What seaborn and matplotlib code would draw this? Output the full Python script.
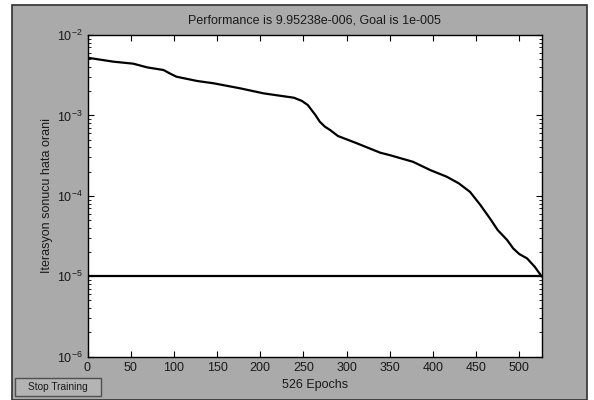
import matplotlib
matplotlib.use("Agg")
import matplotlib.pyplot as plt
import numpy as np
import pandas as pd
import seaborn as sns
from matplotlib.patches import Rectangle
from matplotlib.ticker import LogLocator, FixedLocator

# training record
epochs = [0, 30, 53, 69, 88, 96, 103, 127, 146, 177, 204, 239, 248, 255, 264,
          269, 275, 281, 290, 312, 339, 350, 377, 397, 416, 430, 443, 455, 466,
          475, 486, 493, 500, 509, 518, 526]
performance = [5.22e-3, 4.66e-3, 4.40e-3, 3.96e-3, 3.67e-3, 3.30e-3, 3.03e-3,
               2.68e-3, 2.51e-3, 2.17e-3, 1.88e-3, 1.66e-3, 1.52e-3, 1.35e-3,
               1.01e-3, 8.35e-4, 7.24e-4, 6.58e-4, 5.55e-4, 4.50e-4, 3.44e-4,
               3.21e-4, 2.65e-4, 2.09e-4, 1.73e-4, 1.43e-4, 1.12e-4, 7.69e-5,
               5.25e-5, 3.76e-5, 2.82e-5, 2.22e-5, 1.89e-5, 1.67e-5, 1.31e-5,
               9.95238e-6]
goal = 1e-5
goal_epochs = [0, 526]
x_ticks = [0, 50, 100, 150, 200, 250, 300, 350, 400, 450, 500]

sns.set_style("ticks")
plt.rcParams["font.family"] = ["Liberation Sans", "DejaVu Sans"]
plt.rcParams["font.size"] = 9

panel_gray = "#aaaaaa"
text_color = "#1a1a1a"
df = pd.DataFrame({"epoch": epochs, "perf": performance})

fig = plt.figure(figsize=(5.94, 4.0), dpi=100, facecolor="white")
fig.patches.append(Rectangle((12 / 594, 0), 575 / 594, 395 / 400, transform=fig.transFigure,
                             facecolor=panel_gray, edgecolor="#303030", linewidth=1.2, zorder=-10))

ax = fig.add_axes([87.5 / 594, 1 - 356.7 / 400, 454.2 / 594, 321.7 / 400])
ax.set_facecolor("white")

sns.lineplot(data=df, x="epoch", y="perf", ax=ax, color="black", linewidth=1.6)
ax.plot(goal_epochs, [goal, goal], color="black", linewidth=1.6)

ax.set_yscale("log")
ax.set_xlim(0, 526)
ax.set_ylim(1e-6, 1e-2)
ax.xaxis.set_major_locator(FixedLocator(x_ticks))
ax.yaxis.set_major_locator(LogLocator(base=10, numticks=10))
ax.yaxis.set_minor_locator(LogLocator(base=10, subs=np.arange(2, 10), numticks=10))
ax.tick_params(which="both", direction="in", top=True, right=True, labelsize=9,
               colors="black", labelcolor=text_color)
ax.tick_params(which="major", length=4, width=0.8)
ax.tick_params(which="minor", length=2, width=0.6)
for s in ax.spines.values():
    s.set_color("black")
    s.set_linewidth(1.0)

ax.set_title("Performance is 9.95238e-006, Goal is 1e-005", fontsize=9, pad=8, color=text_color)
ax.set_xlabel("526 Epochs", fontsize=9, labelpad=4, color=text_color)
ax.set_ylabel("Iterasyon sonucu hata orani", fontsize=9, labelpad=3, color=text_color)

# Stop Training button
fig.patches.append(Rectangle((15 / 594, 4 / 400), 86 / 594, 18 / 400, transform=fig.transFigure,
                             facecolor="#b4b4b4", edgecolor="#505050", linewidth=1.0, zorder=1))
fig.text(58 / 594, 13 / 400, "Stop Training", ha="center", va="center", fontsize=7.3, color=text_color)

fig.savefig("out.png", dpi=100, facecolor=fig.get_facecolor())
